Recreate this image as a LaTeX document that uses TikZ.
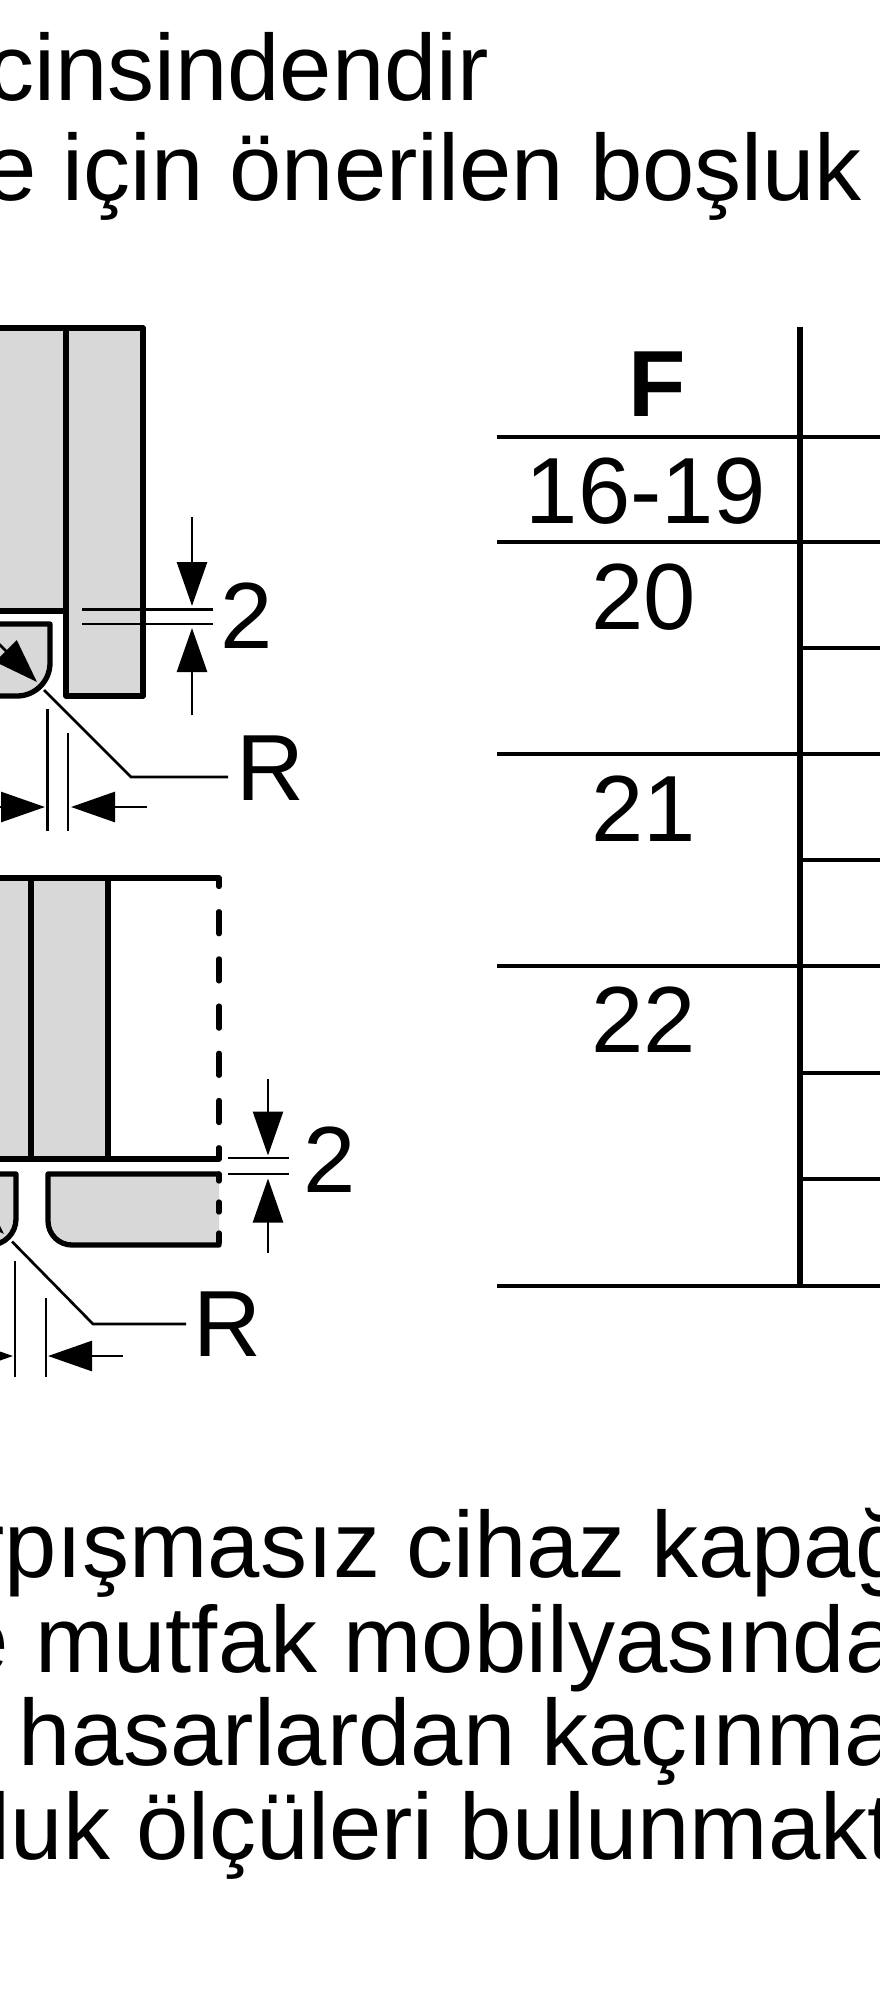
\documentclass[tikz,border=0pt]{standalone}
\usepackage{fontspec}
\setmainfont{Liberation Sans}
\usetikzlibrary{arrows.meta}
\definecolor{panel}{HTML}{D8D8D8}
\tikzset{
  txt/.style={inner sep=0pt,outer sep=0pt,font=\fontsize{94}{94}\selectfont},
  txtW/.style={txt,anchor=base west},
  txtE/.style={txt,anchor=base east},
  txtC/.style={txt,anchor=base},
  outline/.style={line width=5.3pt,line join=round,line cap=round},
  thin line/.style={line width=2.7pt},
  dim/.style={line width=2.7pt,-{Triangle[length=44pt,width=30pt]}},
  rule/.style={line width=3.6pt},
  mainrule/.style={line width=5.4pt}
}
\begin{document}
\begin{tikzpicture}[x=1pt,y=-1pt]
\useasboundingbox (0,0) rectangle (880,2000);
\fill[white] (0,0) rectangle (880,2000);
% top text
\node[txtE] (t1) at (489,100) {cinsindendir};
\node[txtE] (t2) at (862,200) {e için önerilen boşluk};
% upper detail
\fill[panel] (-10,328) rectangle (143,611);
\fill[panel] (66,328) rectangle (143,696);
\fill[panel] (-10,624) -- (50,624) -- (50,663) arc[start angle=0,end angle=90,radius=33] -- (-10,696) -- cycle;
\draw[outline] (-10,328) -- (143,328) -- (143,696) -- (66,696) -- (66,328);
\draw[outline] (-10,611) -- (66,611);
\draw[outline] (-10,624) -- (50,624) -- (50,663) arc[start angle=0,end angle=90,radius=33] -- (-10,696);
\coordinate (a1) at (-30,615);
\coordinate (a2) at (37,682);
\draw[dim] (a1) -- (a2);
\coordinate (d1a) at (82,609.5); \coordinate (d1b) at (213,609.5);
\coordinate (d2a) at (82,624); \coordinate (d2b) at (213,624);
\draw[thin line] (d1a) -- (d1b);
\draw[thin line] (d2a) -- (d2b);
\draw[dim] (192,517) -- (192,606);
\draw[dim] (192,715) -- (192,628);
\node[txtW] (two1) at (220,648) {2};
\coordinate (r1a) at (44,690); \coordinate (r1b) at (131,777); \coordinate (r1c) at (228,777);
\draw[thin line] (r1a) -- (r1b) -- (r1c);
\node[txtW] (r1) at (236,800) {R};
\draw[thin line] (47.3,709) -- (47.3,831);
\draw[thin line] (68,733) -- (68,831);
\draw[dim] (-30,807) -- (45,807);
\draw[dim] (147,807) -- (71,807);
% lower detail
\fill[panel] (-10,878) rectangle (108,1159);
\fill[panel] (-10,1174) -- (16,1174) -- (16,1219) arc[start angle=0,end angle=90,radius=26] -- (-10,1245) -- cycle;
\fill[panel] (219,1174) -- (48,1174) -- (48,1221) arc[start angle=180,end angle=90,radius=24] -- (219,1245) -- cycle;
\draw[outline] (-10,878) -- (219,878);
\draw[outline] (-10,1159) -- (219,1159);
\draw[outline] (31,878) -- (31,1159);
\draw[outline] (108,878) -- (108,1159);
\draw[outline,dash pattern=on 22pt off 25.2pt,dash phase=13.5pt] (219,878) -- (219,1159);
\draw[outline,dash pattern=on 10pt off 21pt,dash phase=3pt] (219,1174) -- (219,1245);
\draw[outline] (-10,1174) -- (16,1174) -- (16,1219) arc[start angle=0,end angle=90,radius=26] -- (-10,1245);
\draw[outline] (219,1174) -- (48,1174) -- (48,1221) arc[start angle=180,end angle=90,radius=24] -- (219,1245);
\draw[dim] (-60,1170) -- (4,1234);
\coordinate (e1a) at (228,1158); \coordinate (e1b) at (289,1158);
\coordinate (e2a) at (228,1174); \coordinate (e2b) at (289,1174);
\draw[thin line] (e1a) -- (e1b);
\draw[thin line] (e2a) -- (e2b);
\draw[dim] (268,1079) -- (268,1155.5);
\draw[dim] (268,1252.6) -- (268,1178.5);
\node[txtW] (two2) at (303,1192) {2};
\coordinate (r2a) at (12,1241.5); \coordinate (r2b) at (93,1324); \coordinate (r2c) at (186,1324);
\draw[thin line] (r2a) -- (r2b) -- (r2c);
\node[txtW] (r2) at (193.5,1356) {R};
\draw[thin line] (15,1261) -- (15,1376.5);
\draw[thin line] (46,1298) -- (46,1376.5);
\draw[dim] (-50,1356) -- (13,1356);
\draw[dim] (123,1356) -- (48,1356);
% table
\coordinate (vt) at (800,327); \coordinate (vb) at (800,1286);
\draw[mainrule] (vt) -- (vb);
\foreach \yy in {437,542,754,966,1286} \draw[rule] (497,\yy) -- (880,\yy);
\foreach \yy in {648,860,1073,1179} \draw[rule] (800,\yy) -- (880,\yy);
\node[txtC,font=\fontsize{94}{94}\selectfont\bfseries] (hF) at (657,416) {F};
\node[txtC] (c1) at (646,523) {16-19};
\node[txtC] (c2) at (644,629) {20};
\node[txtC] (c3) at (644,841) {21};
\node[txtC] (c4) at (644,1052) {22};
% bottom text
\node[txtW] (b1) at (-27,1577) {rpışmasız cihaz kapağ};
\node[txtW] (b2) at (-43,1672) {e mutfak mobilyasında};
\node[txtW] (b3) at (19,1765) {hasarlardan kaçınma};
\node[txtW] (b4) at (-10,1859) {luk ölçüleri bulunmakt};
\end{tikzpicture}
\end{document}
